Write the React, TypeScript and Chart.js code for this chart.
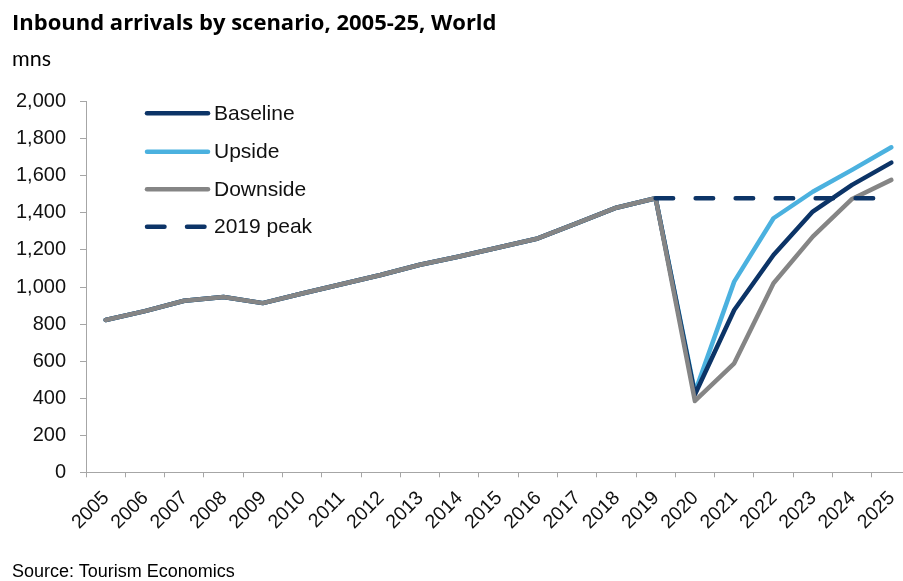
import React, { useEffect, useRef } from 'react';
import { Chart, registerables } from 'chart.js';

Chart.register(...registerables);

const years = ['2005', '2006', '2007', '2008', '2009', '2010', '2011', '2012', '2013', '2014', '2015', '2016', '2017', '2018', '2019', '2020', '2021', '2022', '2023', '2024', '2025'];
const historical = [822, 870, 926, 946, 913, 965, 1015, 1065, 1120, 1165, 1213, 1262, 1345, 1428, 1479];
const baselineForecast = [420, 876, 1173, 1407, 1551, 1671];
const upsideForecast = [432, 1029, 1371, 1514, 1632, 1754];
const downsideForecast = [385, 588, 1020, 1272, 1475, 1578];
const peak2019 = [null, null, null, null, null, null, null, null, null, null, null, null, null, null, 1479, 1479, 1479, 1479, 1479, 1479, 1479];
const seriesLabels = ['Baseline', 'Upside', 'Downside', '2019 peak'];
const yMin = 0;
const yMax = 2000;
const yStep = 200;

const NAVY = '#0C3467';
const LIGHT = '#4BB1DF';
const GREY = '#858585';
const AXIS = '#A6A6A6';
const TEXT = '#111111';
const SANS = "'Liberation Sans', Arial, sans-serif";

const legendPlugin = {
  id: 'insideLegend',
  afterDraw(chart: any) {
    const ctx = chart.ctx;
    const rows = [113.3, 151.7, 189.3, 226.7];
    ctx.save();
    chart.data.datasets.forEach((ds: any, i: number) => {
      const y = rows[i];
      ctx.beginPath();
      ctx.strokeStyle = ds.borderColor;
      ctx.lineWidth = ds.borderWidth;
      ctx.lineCap = 'round';
      if (ds.borderDash && ds.borderDash.length) {
        ctx.setLineDash(ds.borderDash);
        ctx.moveTo(147, y);
        ctx.lineTo(207, y);
      } else {
        ctx.setLineDash([]);
        ctx.moveTo(147, y);
        ctx.lineTo(208, y);
      }
      ctx.stroke();
      ctx.setLineDash([]);
      ctx.fillStyle = TEXT;
      ctx.font = `21px ${SANS}`;
      ctx.textBaseline = 'middle';
      ctx.textAlign = 'left';
      ctx.fillText(ds.label, 214, y + 1);
    });
    ctx.restore();
  },
};

export default function App() {
  const ref = useRef<HTMLCanvasElement | null>(null);

  useEffect(() => {
    if (!ref.current) return;
    const chart = new Chart(ref.current, {
      type: 'line',
      data: {
        labels: years,
        datasets: [
          {
            label: seriesLabels[0],
            data: [...historical, ...baselineForecast],
            borderColor: NAVY,
            backgroundColor: NAVY,
            borderWidth: 4.5,
            pointRadius: 0,
            tension: 0,
            borderCapStyle: 'round',
            borderJoinStyle: 'round',
            order: 2,
          },
          {
            label: seriesLabels[1],
            data: [...historical, ...upsideForecast],
            borderColor: LIGHT,
            backgroundColor: LIGHT,
            borderWidth: 4.5,
            pointRadius: 0,
            tension: 0,
            borderCapStyle: 'round',
            borderJoinStyle: 'round',
            order: 3,
          },
          {
            label: seriesLabels[2],
            data: [...historical, ...downsideForecast],
            borderColor: GREY,
            backgroundColor: GREY,
            borderWidth: 4.5,
            pointRadius: 0,
            tension: 0,
            borderCapStyle: 'round',
            borderJoinStyle: 'round',
            order: 1,
          },
          {
            label: seriesLabels[3],
            data: peak2019,
            borderColor: NAVY,
            backgroundColor: NAVY,
            borderWidth: 4.5,
            borderDash: [17.5, 22.5],
            pointRadius: 0,
            tension: 0,
            borderCapStyle: 'round',
            order: 0,
          },
        ],
      },
      options: {
        responsive: false,
        animation: false,
        devicePixelRatio: 1,
        layout: { padding: { top: 101.7, left: 0, right: 19, bottom: 0 } },
        plugins: {
          legend: { display: false },
          tooltip: { enabled: false },
          title: { display: false },
        },
        scales: {
          x: {
            type: 'category',
            offset: true,
            grid: {
              offset: true,
              drawOnChartArea: false,
              drawTicks: true,
              tickLength: 5,
              color: AXIS,
              lineWidth: 1,
            },
            border: { display: true, color: AXIS, width: 1 },
            ticks: {
              autoSkip: false,
              minRotation: 45,
              maxRotation: 45,
              labelOffset: 0.5,
              padding: 9.5,
              color: TEXT,
              font: { family: SANS, size: 19.5 },
            },
            afterFit(scale: any) {
              scale.height = 581 - 472.3;
            },
          },
          y: {
            min: yMin,
            max: yMax,
            grid: {
              drawOnChartArea: false,
              drawTicks: true,
              tickLength: 6,
              color: AXIS,
              lineWidth: 1,
            },
            border: { display: true, color: AXIS, width: 1 },
            ticks: {
              stepSize: yStep,
              padding: 14,
              color: TEXT,
              font: { family: SANS, size: 20 },
              callback: (v: any) => Number(v).toLocaleString('en-US'),
            },
            afterFit(scale: any) {
              scale.width = 86;
            },
          },
        },
      },
      plugins: [legendPlugin],
    });
    return () => chart.destroy();
  }, []);

  return (
    <div
      style={{
        position: 'absolute',
        left: 0,
        top: 0,
        width: 903,
        height: 581,
        overflow: 'hidden',
        background: '#ffffff',
      }}
    >
      <canvas
        ref={ref}
        width={930}
        height={581}
        style={{ position: 'absolute', left: 0, top: 0, width: 930, height: 581, display: 'block' }}
      />
      <div
        style={{
          position: 'absolute',
          left: 12,
          top: 8,
          fontFamily: "'Open Sans', sans-serif",
          fontWeight: 700,
          fontSize: 22,
          lineHeight: 1.2,
          color: '#000',
          whiteSpace: 'nowrap',
        }}
      >
        Inbound arrivals by scenario, 2005-25, World
      </div>
      <div
        style={{
          position: 'absolute',
          left: 12,
          top: 48,
          fontFamily: 'Lato, sans-serif',
          fontSize: 21.5,
          lineHeight: 1,
          color: '#000',
          whiteSpace: 'nowrap',
        }}
      >
        mns
      </div>
      <div
        style={{
          position: 'absolute',
          left: 12,
          top: 562,
          fontFamily: SANS,
          fontSize: 18,
          lineHeight: 1,
          color: '#000',
          whiteSpace: 'nowrap',
        }}
      >
        Source: Tourism Economics
      </div>
    </div>
  );
}
